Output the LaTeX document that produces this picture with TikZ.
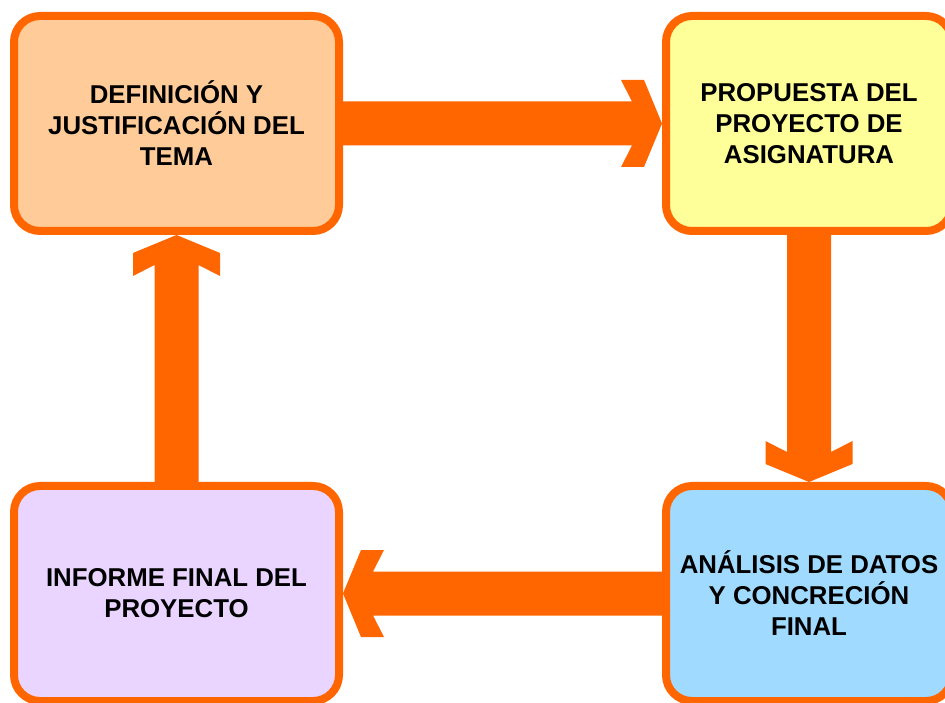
\documentclass[tikz,border=0pt]{standalone}
\usepackage{fontspec}
\setmainfont{Liberation Sans}
\definecolor{arrorange}{HTML}{FF6600}
\definecolor{fillpeach}{HTML}{FFCC99}
\definecolor{fillyellow}{HTML}{FFFF99}
\definecolor{fillblue}{RGB}{160,218,255}
\definecolor{filllilac}{RGB}{233,213,255}
\tikzset{
  stagebox/.style={draw=arrorange, line width=8pt, rounded corners=26pt,
    minimum height=215pt, align=center, inner sep=0pt,
    font=\fontsize{25.8}{31}\selectfont\bfseries},
  widebox/.style={stagebox, minimum width=325pt},
  narrowbox/.style={stagebox, minimum width=286pt},
  bigarrow/.style={fill=arrorange, draw=none}
}
\begin{document}
\begin{tikzpicture}[x=1pt,y=1pt]
\useasboundingbox (0,0) rectangle (945,702);
\clip (0,0) rectangle (945,702);
\fill[white] (0,0) rectangle (945,702);

\node[widebox, fill=fillpeach] (def) at (176.5,578.5) {DEFINICIÓN Y\\JUSTIFICACIÓN DEL\\TEMA};
\node[narrowbox, fill=fillyellow] (prop) at (809,578.5) {PROPUESTA DEL\\PROYECTO DE\\ASIGNATURA};
\node[narrowbox, fill=fillblue] (anal) at (809,108.5) {ANÁLISIS DE DATOS\\Y CONCRECIÓN\\FINAL};
\node[widebox, fill=filllilac] (inf) at (176.5,108.5) {INFORME FINAL DEL\\PROYECTO};

% right-pointing arrow: def -> prop
\fill[bigarrow] ([yshift=22pt]def.east) -- ([xshift=-30pt,yshift=22pt]prop.west)
  -- ([xshift=-41pt,yshift=43.5pt]prop.west) -- ([xshift=-18pt,yshift=43.5pt]prop.west)
  -- (prop.west)
  -- ([xshift=-18pt,yshift=-43.5pt]prop.west) -- ([xshift=-41pt,yshift=-43.5pt]prop.west)
  -- ([xshift=-30pt,yshift=-22pt]prop.west) -- ([yshift=-22pt]def.east) -- cycle;

% down-pointing arrow: prop -> anal
\fill[bigarrow] ([xshift=-22pt]prop.south) -- ([xshift=-22pt,yshift=30pt]anal.north)
  -- ([xshift=-43.5pt,yshift=41pt]anal.north) -- ([xshift=-43.5pt,yshift=18pt]anal.north)
  -- (anal.north)
  -- ([xshift=43.5pt,yshift=18pt]anal.north) -- ([xshift=43.5pt,yshift=41pt]anal.north)
  -- ([xshift=22pt,yshift=30pt]anal.north) -- ([xshift=22pt]prop.south) -- cycle;

% left-pointing arrow: anal -> inf
\fill[bigarrow] ([yshift=22pt]anal.west) -- ([xshift=30pt,yshift=22pt]inf.east)
  -- ([xshift=41pt,yshift=43.5pt]inf.east) -- ([xshift=18pt,yshift=43.5pt]inf.east)
  -- (inf.east)
  -- ([xshift=18pt,yshift=-43.5pt]inf.east) -- ([xshift=41pt,yshift=-43.5pt]inf.east)
  -- ([xshift=30pt,yshift=-22pt]inf.east) -- ([yshift=-22pt]anal.west) -- cycle;

% up-pointing arrow: inf -> def
\fill[bigarrow] ([xshift=-22pt]inf.north) -- ([xshift=-22pt,yshift=-30pt]def.south)
  -- ([xshift=-43.5pt,yshift=-41pt]def.south) -- ([xshift=-43.5pt,yshift=-18pt]def.south)
  -- (def.south)
  -- ([xshift=43.5pt,yshift=-18pt]def.south) -- ([xshift=43.5pt,yshift=-41pt]def.south)
  -- ([xshift=22pt,yshift=-30pt]def.south) -- ([xshift=22pt]inf.north) -- cycle;
\end{tikzpicture}
\end{document}
